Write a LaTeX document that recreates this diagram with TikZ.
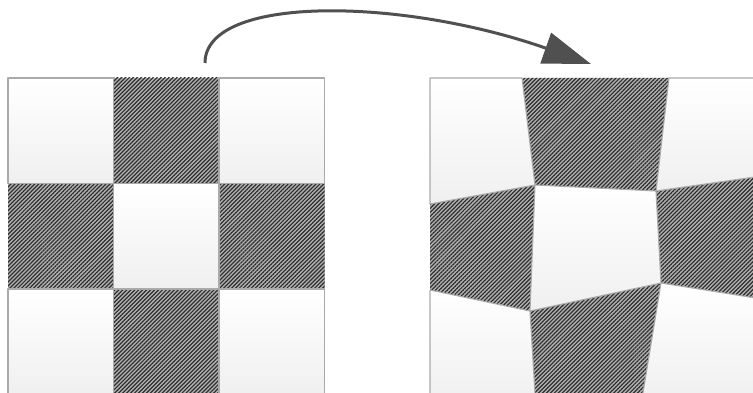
\documentclass[tikz,border=0pt]{standalone}
\usetikzlibrary{arrows.meta,patterns.meta}
\definecolor{edgegray}{HTML}{AAAAAA}
\definecolor{arrowgray}{HTML}{505050}
\tikzset{
  whitecell/.style={top color=white, bottom color=black!6, draw=edgegray, line width=1.1pt, line join=round},
  darkcell/.style={fill=black!30, postaction={pattern={Lines[angle=45,distance=2.8pt,line width=1.2pt]}, pattern color=black!82}},
  bigarrow/.style={draw=arrowgray, line width=3pt, -{Triangle[length=48pt,width=32pt]}}
}
\begin{document}
\begin{tikzpicture}[x=1pt,y=-1pt]
\useasboundingbox (0,0) rectangle (753,393);
\clip (0,0) rectangle (753,393);
% left grid
\foreach \c/\r in {1/0,0/1,2/1,1/2}{
  \path[darkcell] ({8+105.5*\c},{78+105.5*\r}) rectangle ({8+105.5*(\c+1)},{78+105.5*(\r+1)});
}
\foreach \c/\r in {0/0,2/0,1/1,0/2,2/2}{
  \path[whitecell] ({8+105.5*\c},{78+105.5*\r}) rectangle ({8+105.5*(\c+1)},{78+105.5*(\r+1)});
}
% right grid (warped)
\coordinate (A) at (430,78);  \coordinate (B) at (522,78);  \coordinate (C) at (669,78);  \coordinate (D) at (762,78);
\coordinate (E) at (430,204); \coordinate (F) at (535,185); \coordinate (G) at (656,191); \coordinate (H) at (762,176);
\coordinate (I) at (430,290); \coordinate (J) at (530,311); \coordinate (K) at (661,283); \coordinate (L) at (762,299);
\coordinate (M) at (430,402); \coordinate (N) at (535.5,402); \coordinate (O) at (641.5,402); \coordinate (P) at (762,402);
\path[darkcell] (B) -- (C) -- (G) -- (F) -- cycle;
\path[darkcell] (E) -- (F) -- (J) -- (I) -- cycle;
\path[darkcell] (G) -- (H) -- (L) -- (K) -- cycle;
\path[darkcell] (J) -- (K) -- (O) -- (N) -- cycle;
\path[whitecell] (A) -- (B) -- (F) -- (E) -- cycle;
\path[whitecell] (C) -- (D) -- (H) -- (G) -- cycle;
\path[whitecell] (F) -- (G) -- (K) -- (J) -- cycle;
\path[whitecell] (I) -- (J) -- (N) -- (M) -- cycle;
\path[whitecell] (K) -- (L) -- (P) -- (O) -- cycle;
% arrow
\coordinate (s) at (205,63);
\coordinate (t) at (591,64);
\draw[bigarrow] (s) .. controls (205,-5) and (400,-3) .. (t);
\end{tikzpicture}
\end{document}
